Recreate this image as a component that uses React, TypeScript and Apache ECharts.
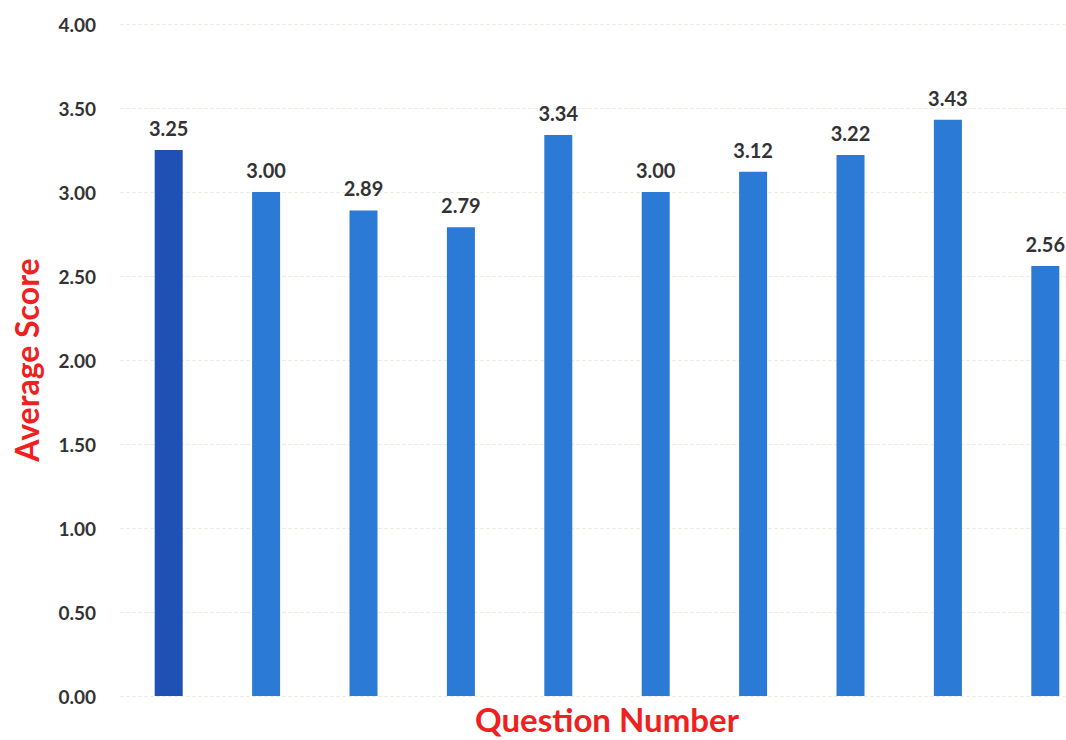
import React, { useEffect, useRef } from "react";
import * as echarts from "echarts";

const categories = ["1", "2", "3", "4", "5", "6", "7", "8", "9", "10"];
const scores = [3.25, 3.0, 2.89, 2.79, 3.34, 3.0, 3.12, 3.22, 3.43, 2.56];
const yTicks = { min: 0, max: 4, interval: 0.5 };

export default function App() {
  const ref = useRef<HTMLDivElement>(null);
  useEffect(() => {
    const chart = echarts.init(ref.current!, null, { renderer: "svg" });
    chart.setOption({
      animation: false,
      backgroundColor: "#ffffff",
      grid: { left: 120, right: -28, top: 24, bottom: 44, outerBoundsMode: "none", containLabel: false },
      xAxis: {
        type: "category",
        data: categories,
        axisLine: { show: false },
        axisTick: { show: false },
        axisLabel: { show: false },
        name: "Question Number",
        nameLocation: "middle",
        nameGap: 6,
        nameTextStyle: { color: "#f02020", fontSize: 33, fontWeight: "bold", fontFamily: "Lato", verticalAlign: "top" },
      },
      yAxis: {
        type: "value",
        min: yTicks.min,
        max: yTicks.max,
        interval: yTicks.interval,
        axisLine: { show: false },
        axisTick: { show: false },
        splitLine: { show: true, lineStyle: { color: "#f0ece4", type: "dashed" } },
        axisLabel: {
          formatter: (v: number) => v.toFixed(2),
          color: "#333333",
          fontSize: 19,
          fontWeight: "bold",
          fontFamily: "Lato",
          margin: 24,
        },
        name: "Average Score",
        nameLocation: "middle",
        nameGap: 78,
        nameTextStyle: { color: "#f02020", fontSize: 32, fontWeight: "bold", fontFamily: "Lato" },
      },
      series: [
        {
          type: "bar",
          data: scores.map((v, i) => ({
            value: v,
            itemStyle: { color: i === 0 ? "#1f50b4" : "#2a7ad6" },
          })),
          barWidth: 28,
          label: {
            show: true,
            position: "top",
            distance: 12,
            formatter: (p: any) => p.value.toFixed(2),
            color: "#333333",
            fontSize: 20,
            fontWeight: "bold",
            fontFamily: "Lato",
          },
        },
      ],
    });
    return () => chart.dispose();
  }, []);
  return (
    <div
      ref={ref}
      style={{ position: "fixed", left: 0, top: 0, width: 1066, height: 740, background: "#fff" }}
    />
  );
}
